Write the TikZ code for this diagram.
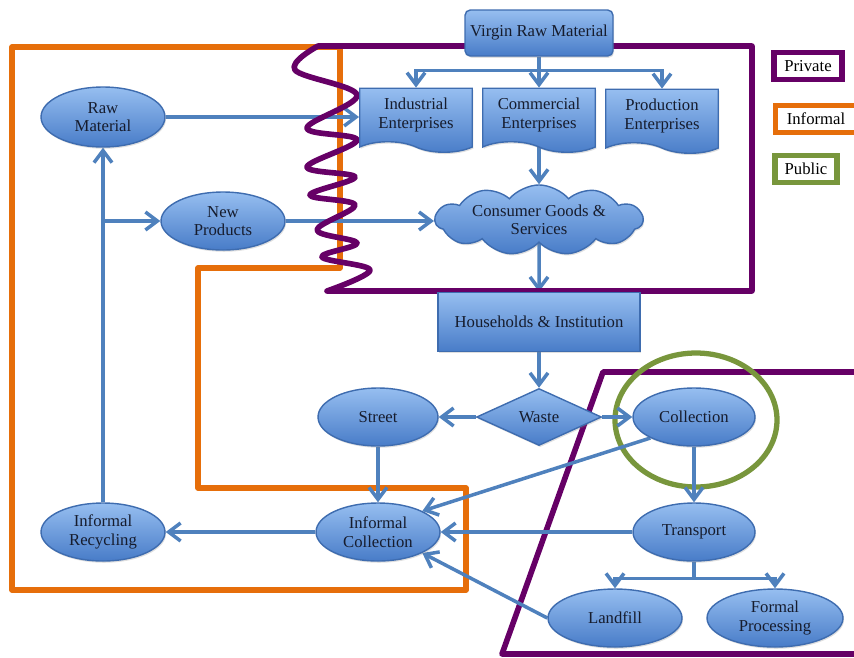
\documentclass[tikz,border=0pt]{standalone}
\usepackage{fontspec}
\setmainfont{Liberation Serif}
\usetikzlibrary{arrows.meta,positioning,shapes.geometric,shapes.symbols,shadows}
\definecolor{flowblue}{RGB}{79,129,189}
\definecolor{bluetop}{RGB}{150,190,240}
\definecolor{bluebot}{RGB}{72,124,200}
\definecolor{blueedge}{RGB}{62,108,175}
\definecolor{txt}{RGB}{22,28,45}
\definecolor{privpurple}{RGB}{102,0,102}
\definecolor{inforange}{RGB}{230,110,10}
\definecolor{pubgreen}{RGB}{120,150,60}
\pgfdeclarelayer{bg}
\pgfdeclarelayer{arrs}
\pgfdeclarelayer{frames}
\pgfsetlayers{bg,arrs,frames,main}

\begin{document}
\begin{tikzpicture}[x=0.02cm, y=-0.02cm,
    bfill/.style={top color=bluetop, bottom color=bluebot, draw=blueedge, line width=0.8pt, text=txt, font=\fontsize{9.5}{10.5}\selectfont, align=center, inner sep=1pt, drop shadow={opacity=0.25, shadow xshift=0.6pt, shadow yshift=-1pt}},
    oval/.style={bfill, ellipse, minimum width=2.48cm, minimum height=1.16cm},
    box/.style={bfill, rectangle},
    doc/.style={bfill, tape, tape bend top=none, tape bend bottom=out and in, tape bend height=6pt, minimum width=2.25cm, minimum height=1.28cm},
    arr/.style={-{Straight Barb[length=2.4mm, width=3.6mm]}, line width=2pt, flowblue},
    priv/.style={draw=privpurple, line width=3.2pt},
    inf/.style={draw=inforange, line width=3pt},
    pub/.style={draw=pubgreen, line width=3pt},
    leg/.style={rectangle, fill=white, text=black, font=\fontsize{9.5}{10.5}\selectfont, inner sep=0pt, line width=3pt, minimum height=0.54cm},
]
\useasboundingbox (0,0) rectangle (854,657);

% Sector frames
\begin{pgfonlayer}{bg}
\draw[inf, line join=round] (12,47) -- (340,47) -- (340,268) -- (198,268) -- (198,488) -- (466,488) -- (466,590) -- (12,590) -- cycle;
\draw[priv, line join=round] (870,372) -- (603,372) -- (502,654) -- (870,654);
\draw[pub] (696,420) ellipse [x radius=1.62cm, y radius=1.34cm];
\end{pgfonlayer}
\begin{pgfonlayer}{frames}
\draw[priv, line join=round] (752,291) -- (327,291) -- plot[smooth, tension=0.6] coordinates {(327,291) (370,270) (322,257) (357,243) (317,230) (355,205) (310,195) (355,177) (307,167) (357,140) (307,128) (357,95) (295,70) (318,46)} -- (752,46) -- cycle;
\end{pgfonlayer}

% Production side
\node[box, rounded corners=3pt, minimum width=2.96cm, minimum height=0.92cm] (virgin) at (539,33) {Virgin Raw Material};
\node[doc] (indus) at (416,115) {Industrial\\Enterprises};
\node[doc] (comm) at (539,115) {Commercial\\Enterprises};
\node[doc] (prod) at (662,116) {Production\\Enterprises};
\node[bfill, cloud, cloud puffs=11, cloud puff arc=100, aspect=4, inner sep=0pt, minimum width=4.15cm, minimum height=1.15cm] (goods) at (539,220) {Consumer Goods \&\\Services};
\node[box, minimum width=4.04cm, minimum height=1.18cm] (house) at (539,322) {Households \& Institution};
\node[bfill, diamond, aspect=2.2, inner sep=0pt, minimum width=2.5cm, minimum height=1.14cm] (waste) at (539,417) {Waste};

% Informal side
\node[oval, minimum height=1.2cm] (raw) at (103,117) {Raw\\Material};
\node[oval] (newp) at (223,221) {New\\Products};
\node[oval, minimum width=2.4cm] (street) at (378,417) {Street};
\node[oval] (icoll) at (378,532) {Informal\\Collection};
\node[oval] (irec) at (103,532) {Informal\\Recycling};

% Public side
\node[oval, minimum width=2.44cm] (coll) at (694,417) {Collection};
\node[oval, minimum width=2.44cm] (trans) at (694,532) {Transport};
\node[oval, minimum width=2.68cm] (landfill) at (615,618) {Landfill};
\node[oval, minimum width=2.72cm] (formal) at (775,618) {Formal\\Processing};

% Legend
\node[leg, draw=privpurple, minimum width=1.36cm] (lpriv) at (808,66) {Private};
\node[leg, draw=inforange, minimum width=1.62cm] (linf) at (816,119) {Informal};
\node[leg, draw=pubgreen, minimum width=1.24cm] (lpub) at (806,169) {Public};

% Flows
\begin{pgfonlayer}{arrs}
\draw[arr] (virgin.south) -- ++(0,14) -| (indus.north);
\draw[arr] (virgin.south) -- (comm.north);
\draw[arr] (virgin.south) -- ++(0,14) -| (prod.north);
\draw[arr] (raw.east) -- (raw.east -| indus.west);
\draw[arr] (comm.south) -- (comm.south |- goods.north);
\draw[arr] (newp.east) -- (newp.east -| goods.west);
\draw[arr] (goods.south) -- (house.north);
\draw[arr] (house.south) -- (waste.north);
\draw[arr] (waste.west) -- (street.east);
\draw[arr] (waste.east) -- (coll.west);
\draw[arr] (street.south) -- (icoll.north);
\draw[arr] (coll.south west) -- (icoll.north east);
\draw[arr] (trans.west) -- (icoll.east);
\draw[arr] (landfill.west) -- (icoll.south east);
\draw[arr] (coll.south) -- (trans.north);
\draw[arr] (trans.south) -- ++(0,17) -| (landfill.north);
\draw[arr] (trans.south) -- ++(0,17) -| (formal.north);
\draw[arr] (icoll.west) -- (irec.east);
\draw[arr] (irec.north) -- (raw.south);
\draw[arr] (irec.north |- newp.west) -- (newp.west);
\end{pgfonlayer}
\end{tikzpicture}
\end{document}
